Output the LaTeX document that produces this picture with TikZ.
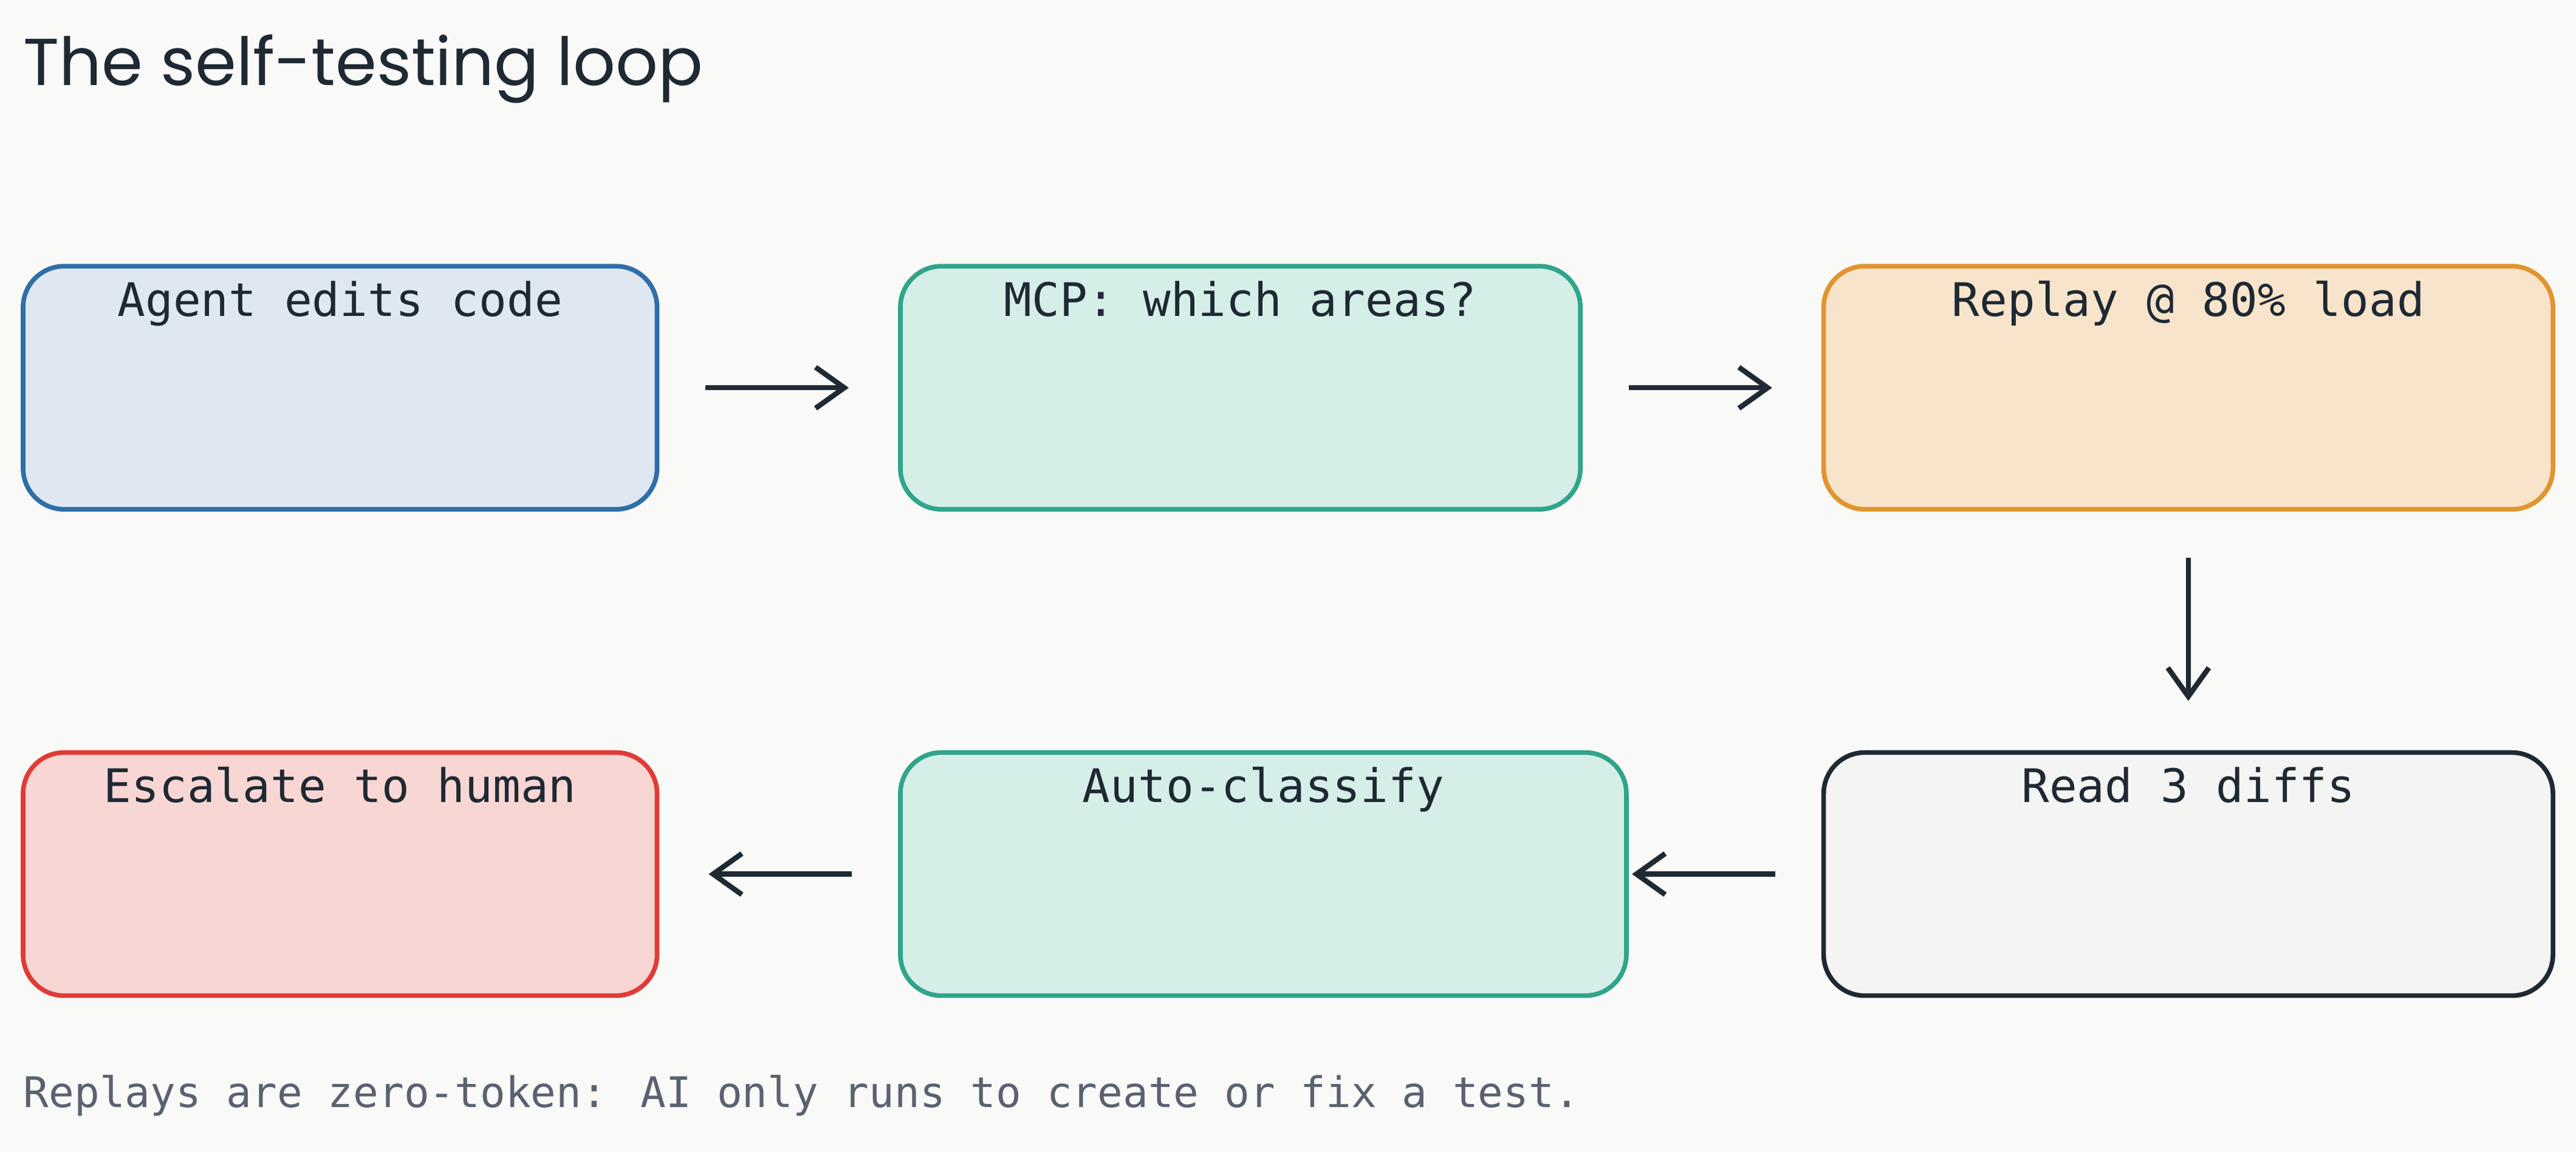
\documentclass[tikz,border=0pt]{standalone}
\usepackage{fontspec}
\setmainfont{DejaVu Sans Mono}
\newfontfamily\titlefont{Poppins}
\usetikzlibrary{positioning,arrows.meta}
\definecolor{bg}{HTML}{F9F9F7}
\definecolor{ink}{HTML}{1F2933}
\definecolor{blueS}{HTML}{2F6EA8}\definecolor{blueF}{HTML}{DFE8F2}
\definecolor{greenS}{HTML}{2FA58A}\definecolor{greenF}{HTML}{D5EEE7}
\definecolor{orangeS}{HTML}{E0952E}\definecolor{orangeF}{HTML}{F7E4CB}
\definecolor{greyF}{HTML}{F4F4F3}
\definecolor{redS}{HTML}{E03C37}\definecolor{redF}{HTML}{F7D6D4}
\definecolor{noteC}{HTML}{5A6270}

\begin{document}
\begin{tikzpicture}[x=0.02cm,y=-0.02cm]
\tikzset{stage/.style = {draw,line width=1.6pt,rounded corners=0.5cm,minimum height=2.96cm,inner sep=0pt},
  stagetext/.style = {font=\fontsize{16}{18}\selectfont,text=ink,inner sep=0pt},
  flow/.style = {-{Straight Barb[length=3.5mm,width=5mm]},draw=ink,line width=1.8pt,shorten <=0.56cm,shorten >=0.6cm}}
\fill[bg] (0,0) rectangle (1568,701);
\useasboundingbox (0,0) rectangle (1568,701);

\node[anchor=west,inner sep=0pt,font=\titlefont\fontsize{23}{26}\selectfont,text=ink] (title) at (14,42) {The self-testing loop};

\node[stage,draw=blueS,fill=blueF,minimum width=7.72cm] (edit) at (207,236) {};
\node[stage,draw=greenS,fill=greenF,minimum width=8.28cm] (mcp) at (755,236) {};
\node[stage,draw=orangeS,fill=orangeF,minimum width=8.88cm] (replay) at (1332,236) {};
\node[stage,draw=ink,fill=greyF,minimum width=8.88cm] (diffs) at (1332,532) {};
\node[stage,draw=greenS,fill=greenF,minimum width=8.84cm] (classify) at (769,532) {};
\node[stage,draw=redS,fill=redF,minimum width=7.72cm] (human) at (207,532) {};

\node[stagetext,anchor=north] (t1) at ([yshift=-0.2cm]edit.north) {Agent edits code};
\node[stagetext,anchor=north] (t2) at ([yshift=-0.2cm]mcp.north) {MCP: which areas?};
\node[stagetext,anchor=north] (t3) at ([yshift=-0.2cm]replay.north) {Replay @ 80\% load};
\node[stagetext,anchor=north] (t4) at ([yshift=-0.2cm]diffs.north) {Read 3 diffs};
\node[stagetext,anchor=north] (t5) at ([yshift=-0.2cm]classify.north) {Auto-classify};
\node[stagetext,anchor=north] (t6) at ([yshift=-0.2cm]human.north) {Escalate to human};

\draw[flow] (edit) -- (mcp);
\draw[flow] (mcp) -- (replay);
\draw[flow] (replay) -- (diffs);
\draw[flow,shorten >=0.04cm] (diffs) -- (classify);
\draw[flow] (classify) -- (human);

\node[anchor=west,font=\fontsize{14.6}{17}\selectfont,text=noteC,inner sep=0pt] (note) at (14,667) {Replays are zero-token: AI only runs to create or fix a test.};
\end{tikzpicture}
\end{document}
